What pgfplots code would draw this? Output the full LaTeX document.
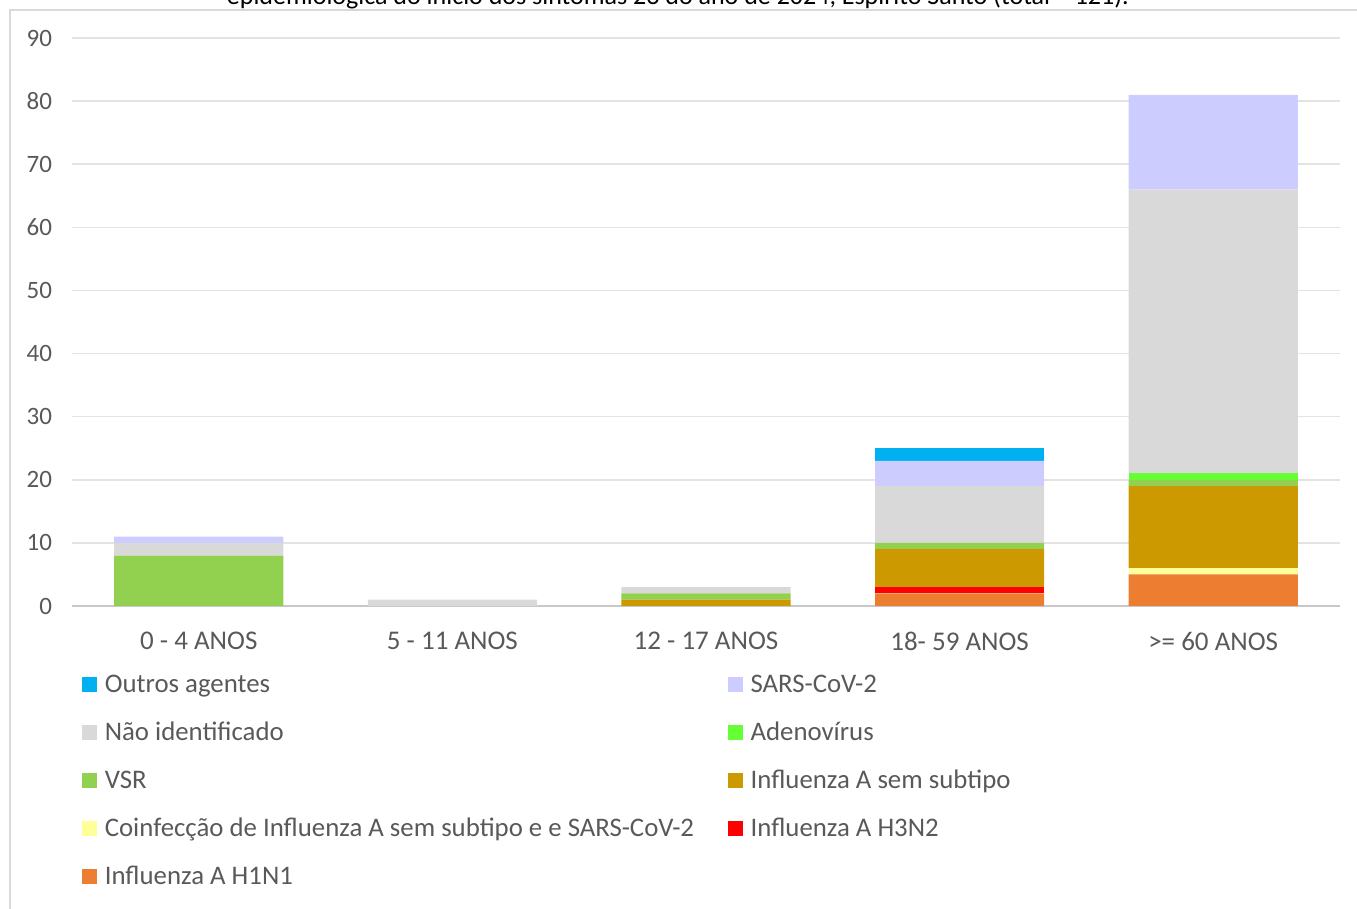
\documentclass[border=0pt]{standalone}
\usepackage{pgfplots}
\usepackage{pgfplotstable}
\pgfplotsset{compat=1.18}
\usepackage{fontspec}
\setmainfont{Carlito}
\definecolor{cOutros}{HTML}{00B0F0}
\definecolor{cSARS}{HTML}{CCCCFF}
\definecolor{cNao}{HTML}{D9D9D9}
\definecolor{cAdeno}{HTML}{66FF33}
\definecolor{cVSR}{HTML}{92D050}
\definecolor{cFluA}{HTML}{CC9900}
\definecolor{cCoinf}{HTML}{FFFF99}
\definecolor{cHiii}{HTML}{FF0000}
\definecolor{cHi}{HTML}{ED7D31}
\definecolor{txt}{HTML}{595959}
\definecolor{gridc}{HTML}{E3E3E3}
\definecolor{axc}{HTML}{C8C8C8}
\definecolor{framec}{HTML}{D9D9D9}

\pgfplotstableread{
x H1 H3 Coinf FluA VSR Adeno Nao SARS Outros
0 0 0 0 0 8 0 2 1 0
1 0 0 0 0 0 0 1 0 0
2 0 0 0 1 1 0 1 0 0
3 2 1 0 6 1 0 9 4 2
4 5 0 1 13 1 1 45 15 0
}\datatable

\pgfplotsset{sq/.style={legend image code/.code={\fill[#1] (0pt,-3.5pt) rectangle (7pt,3.5pt);}}}

\begin{document}
\begin{tikzpicture}
\begin{axis}[
  at={(0,0)}, anchor=south west,
  scale only axis, width=634pt, height=284pt,
  ybar stacked, bar width=0.667,
  xmin=-0.5, xmax=4.5, ymin=0, ymax=90,
  xtick=data,
  xticklabels={0 - 4 ANOS, 5 - 11 ANOS, 12 - 17 ANOS, 18- 59 ANOS, >= 60 ANOS},
  ytick={0,10,...,90},
  major tick length=0pt,
  axis x line*=bottom, axis y line*=left,
  separate axis lines,
  x axis line style={draw=axc, line width=0.8pt, -},
  y axis line style={draw=none},
  ymajorgrids, grid style={draw=gridc, line width=0.75pt},
  /pgf/number format/assume math mode=true,
  tick label style={text=txt},
  yticklabel style={font=\fontsize{12.5}{14}\selectfont, xshift=-6.5pt},
  xticklabel style={font=\fontsize{13.5}{15}\selectfont, yshift=-9.5pt},
  legend columns=2,
  legend cell align=left,
  legend style={at={(0,0)}, anchor=north west, xshift=5pt, yshift=-32.2pt,
    draw=none, fill=none, inner sep=0pt, outer sep=0pt,
    column sep=0pt, row sep=10.4pt,
    font=\fontsize{13.4}{15}\selectfont, text=txt,
    nodes={inner sep=0pt, text height=11.1pt, text depth=2.5pt, text width=311.5pt, align=flush left},
    /tikz/every odd column/.append style={column sep=4pt}},
]
\addplot[fill=cHi, draw=none, forget plot] table[x=x,y=H1]{\datatable};
\addplot[fill=cHiii, draw=none, forget plot] table[x=x,y=H3]{\datatable};
\addplot[fill=cCoinf, draw=none, forget plot] table[x=x,y=Coinf]{\datatable};
\addplot[fill=cFluA, draw=none, forget plot] table[x=x,y=FluA]{\datatable};
\addplot[fill=cVSR, draw=none, forget plot] table[x=x,y=VSR]{\datatable};
\addplot[fill=cAdeno, draw=none, forget plot] table[x=x,y=Adeno]{\datatable};
\addplot[fill=cNao, draw=none, forget plot] table[x=x,y=Nao]{\datatable};
\addplot[fill=cSARS, draw=none, forget plot] table[x=x,y=SARS]{\datatable};
\addplot[fill=cOutros, draw=none, forget plot] table[x=x,y=Outros]{\datatable};

\addlegendimage{sq=cOutros}\addlegendentry{Outros agentes}
\addlegendimage{sq=cSARS}\addlegendentry{SARS-CoV-2}
\addlegendimage{sq=cNao}\addlegendentry{Não identificado}
\addlegendimage{sq=cAdeno}\addlegendentry{Adenovírus}
\addlegendimage{sq=cVSR}\addlegendentry{VSR}
\addlegendimage{sq=cFluA}\addlegendentry{Influenza A sem subtipo}
\addlegendimage{sq=cCoinf}\addlegendentry{Coinfecção de Influenza A sem subtipo e e SARS-CoV-2}
\addlegendimage{sq=cHiii}\addlegendentry{Influenza A H3N2}
\addlegendimage{sq=cHi}\addlegendentry{Influenza A H1N1}
\end{axis}
\pgfresetboundingbox
\path[use as bounding box] (-36pt,-151.5pt) rectangle (642.5pt,303pt);
\draw[framec, line width=0.6pt] (-31pt,-200pt) -- (-31pt,298pt) -- (700pt,298pt);
\node[anchor=base, font=\fontsize{13}{15}\selectfont, text=black, inner sep=0pt] at (303pt,300.5pt)
  {epidemiológica do início dos sintomas 23 do ano de 2024, Espírito Santo (total = 121).};
\end{tikzpicture}
\end{document}
